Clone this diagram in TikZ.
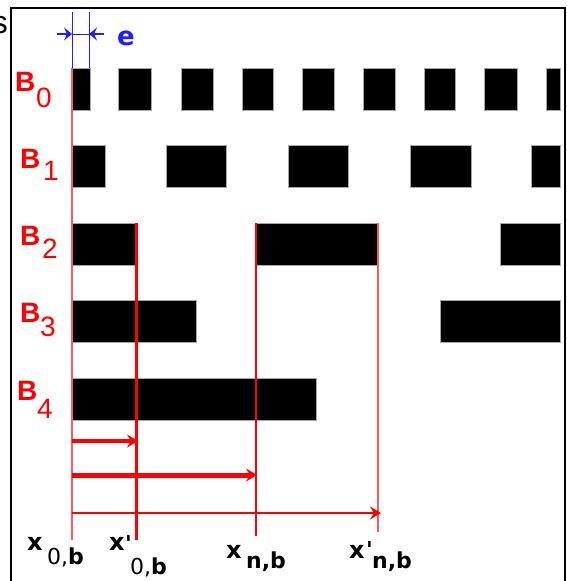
\documentclass[tikz,border=0pt]{standalone}
\usepackage{fontspec}
\setmainfont{Liberation Sans}
\newfontfamily\djvfont{DejaVu Sans}
\usetikzlibrary{arrows.meta}
\definecolor{rd}{RGB}{255,0,0}
\definecolor{lrd}{RGB}{255,90,90}
\definecolor{bl}{RGB}{30,30,255}
\newcommand{\fsz}[1]{\fontsize{#1}{#1}\selectfont}
\begin{document}
\begin{tikzpicture}[x=1pt,y=-1pt,
  bar/.style={fill=black,draw=gray!70,line width=0.6pt},
  blab/.style={anchor=base west,inner sep=0pt,text=rd},
  xlab/.style={anchor=base west,inner sep=0pt,text=black,font=\djvfont},
  redarr/.style={draw=rd,-{Stealth[length=11pt,width=13pt,inset=4pt]}},
  bluearr/.style={draw=bl,line width=1.4pt,-{Stealth[length=8pt,width=13pt,inset=3pt]}}]
\useasboundingbox (0,0) rectangle (566,581);
% frame
\draw[line width=1.5pt] (11,590) -- (11,8) -- (565,8) -- (565,590);
\node[anchor=base east,inner sep=0pt] (s) at (8,33) {\fsz{32}s};
% bars
\foreach \a/\b in {72/90,118/151,181/213,242/273,302/334,363/395,424/455,484/517,546/560}
  \filldraw[bar] (\a,68) rectangle (\b,110);
\foreach \a/\b in {72/105,166/226,288/348,410/471,531/560}
  \filldraw[bar] (\a,145) rectangle (\b,187);
\foreach \a/\b in {72/135,256/378,500/560}
  \filldraw[bar] (\a,223) rectangle (\b,265);
\foreach \a/\b in {72/196,440/560}
  \filldraw[bar] (\a,300) rectangle (\b,342);
\filldraw[bar] (72,378) rectangle (316,420);
% B labels
\node[blab] (B0) at (15,91) {\fsz{28}\bfseries B};
\node[blab] (B0s) at (36,107) {\fsz{28}0};
\node[blab] (B1) at (20,168) {\fsz{28}\bfseries B};
\node[blab] (B1s) at (43,180) {\fsz{28}1};
\node[blab] (B2) at (20,245) {\fsz{28}\bfseries B};
\node[blab] (B2s) at (42,258) {\fsz{28}2};
\node[blab] (B3) at (20,322) {\fsz{28}\bfseries B};
\node[blab] (B3s) at (40,336) {\fsz{28}3};
\node[blab] (B4) at (17,400) {\fsz{28}\bfseries B};
\node[blab] (B4s) at (37,418) {\fsz{28}4};
% blue e marker
\coordinate (e1t) at (72,12); \coordinate (e1b) at (72,68);
\coordinate (e2t) at (89,12); \coordinate (e2b) at (89,68);
\draw[bl,line width=1pt] (e1t) -- (e1b);
\draw[bl,line width=1pt] (e2t) -- (e2b);
\coordinate (eL) at (57,34); \coordinate (eA) at (72,34);
\coordinate (eR) at (104,34); \coordinate (eB) at (89,34);
\draw[bl,line width=1pt] (eA) -- (eB);
\draw[bluearr] (eL) -- (eA);
\draw[bluearr] (eR) -- (eB);
\node[anchor=base west,inner sep=0pt,text=bl,font=\djvfont] (e) at (117,45) {\fsz{26}\bfseries e};
% red verticals
\coordinate (v0t) at (72,68);  \coordinate (v0b) at (72,540);
\coordinate (v1t) at (136,223); \coordinate (v1b) at (136,540);
\coordinate (v2t) at (256,223); \coordinate (v2b) at (256,536);
\coordinate (v3t) at (378,223); \coordinate (v3b) at (378,532);
\draw[lrd,line width=1.3pt] (v0t) -- (v0b);
\draw[rd,line width=3pt] (v1t) -- (v1b);
\draw[rd,line width=2.4pt] (v2t) -- (v2b);
\draw[lrd,line width=1.6pt] (v3t) -- (v3b);
% red arrows
\coordinate (a1s) at (72,441); \coordinate (a1e) at (138,441);
\coordinate (a2s) at (72,475); \coordinate (a2e) at (257,475);
\coordinate (a3s) at (72,513); \coordinate (a3e) at (381,513);
\draw[redarr,line width=4pt] (a1s) -- (a1e);
\draw[redarr,line width=5pt] (a2s) -- (a2e);
\draw[redarr,line width=2.6pt] (a3s) -- (a3e);
% bottom labels
\node[xlab] (x0) at (27,550) {\fsz{24}\bfseries x};
\node[xlab] (x0s) at (47,564) {\fsz{22}0,\textbf{b}};
\node[xlab] (xp0) at (109,550) {\fsz{24}\bfseries x};
\node[xlab] (xp0a) at (125,551) {\fsz{22}\bfseries '};
\node[xlab] (xp0s) at (130,574) {\fsz{22}0,\textbf{b}};
\node[xlab] (xn) at (226,558) {\fsz{24}\bfseries x};
\node[xlab] (xns) at (246,568) {\fsz{22}\bfseries n,b};
\node[xlab] (xpn) at (349,558) {\fsz{24}\bfseries x};
\node[xlab] (xpna) at (366,557) {\fsz{22}\bfseries '};
\node[xlab] (xpns) at (372,568) {\fsz{22}\bfseries n,b};
\end{tikzpicture}
\end{document}
